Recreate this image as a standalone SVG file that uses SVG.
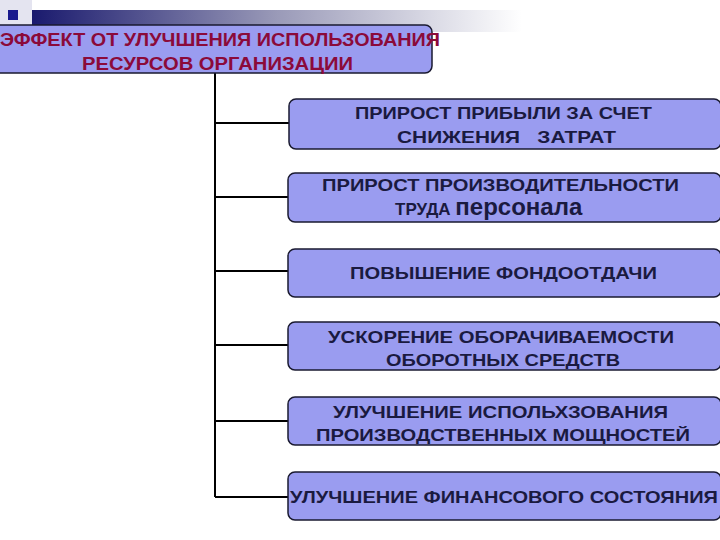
<svg xmlns="http://www.w3.org/2000/svg" width="720" height="540" viewBox="0 0 720 540">
<defs>
<linearGradient id="band" x1="0" x2="1" y1="0" y2="0">
<stop offset="0" stop-color="#1a1a6e"/><stop offset="0.5" stop-color="#9a9ab8"/><stop offset="1" stop-color="#ffffff"/>
</linearGradient>
<style>
.box{fill:#9a9cf0;stroke:#1a1a30;stroke-width:1.5}
.t{font-family:"Liberation Sans",Arial,sans-serif;font-weight:bold;font-size:17px;fill:#1a1a40}
.tt{font-family:"Liberation Sans",Arial,sans-serif;font-weight:bold;font-size:19px;fill:#8b0a3a}
.c{stroke:#000;stroke-width:2;fill:none}
</style>
</defs>
<rect width="720" height="540" fill="#fff"/>
<g id="deco">
<rect x="0" y="0" width="32" height="28" fill="#e4e4f0"/>
<rect x="32" y="10" width="490" height="22" fill="url(#band)"/>
<rect x="8" y="10" width="10" height="10" fill="#1a1a8e"/>
</g>
<g id="connectors">
<path class="c" d="M215 73V497M215 123H289M215 197H289M215 271H289M215 345H289M215 421H289M215 497H289"/>
</g>
<g id="root"><rect class="box" x="-6" y="25" width="438" height="48" rx="7"/>
<text class="tt" x="0" y="46" textLength="440" lengthAdjust="spacingAndGlyphs">ЭФФЕКТ ОТ УЛУЧШЕНИЯ ИСПОЛЬЗОВАНИЯ</text>
<text class="tt" x="82" y="70" textLength="271" lengthAdjust="spacingAndGlyphs">РЕСУРСОВ ОРГАНИЗАЦИИ</text></g>
<g id="n1"><rect class="box" x="289" y="99" width="432" height="50" rx="7"/>
<text class="t" x="355" y="119" textLength="297" lengthAdjust="spacingAndGlyphs">ПРИРОСТ ПРИБЫЛИ ЗА СЧЕТ</text>
<text class="t" x="397" y="143" textLength="219" lengthAdjust="spacingAndGlyphs" xml:space="preserve">СНИЖЕНИЯ   ЗАТРАТ</text></g>
<g id="n2"><rect class="box" x="288" y="173" width="433" height="49" rx="7"/>
<text class="t" x="322" y="191" textLength="357" lengthAdjust="spacingAndGlyphs">ПРИРОСТ ПРОИЗВОДИТЕЛЬНОСТИ</text>
<text class="t" x="395" y="215">ТРУДА <tspan font-size="24">персонала</tspan></text></g>
<g id="n3"><rect class="box" x="288" y="249" width="433" height="48" rx="7"/>
<text class="t" x="350" y="279" textLength="307" lengthAdjust="spacingAndGlyphs">ПОВЫШЕНИЕ ФОНДООТДАЧИ</text></g>
<g id="n4"><rect class="box" x="288" y="322" width="433" height="48" rx="7"/>
<text class="t" x="328" y="343" textLength="346" lengthAdjust="spacingAndGlyphs">УСКОРЕНИЕ ОБОРАЧИВАЕМОСТИ</text>
<text class="t" x="386" y="366" textLength="234" lengthAdjust="spacingAndGlyphs">ОБОРОТНЫХ СРЕДСТВ</text></g>
<g id="n5"><rect class="box" x="288" y="397" width="433" height="48" rx="7"/>
<text class="t" x="333" y="418" textLength="335" lengthAdjust="spacingAndGlyphs">УЛУЧШЕНИЕ ИСПОЛЬХЗОВАНИЯ</text>
<text class="t" x="316" y="441" textLength="374" lengthAdjust="spacingAndGlyphs">ПРОИЗВОДСТВЕННЫХ МОЩНОСТЕЙ</text></g>
<g id="n6"><rect class="box" x="288" y="472" width="433" height="48" rx="7"/>
<text class="t" x="290" y="503" textLength="428" lengthAdjust="spacingAndGlyphs">УЛУЧШЕНИЕ ФИНАНСОВОГО СОСТОЯНИЯ</text></g>
</svg>
